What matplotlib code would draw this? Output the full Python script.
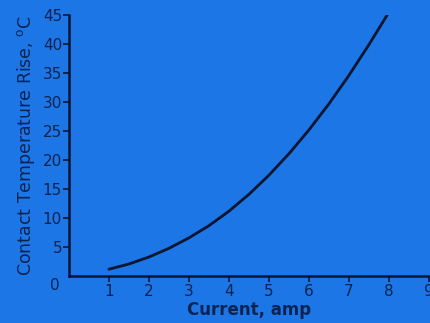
import matplotlib
matplotlib.use("Agg")
import matplotlib.pyplot as plt
import numpy as np

# current (amp) vs contact temperature rise (deg C)
current = [1, 1.5, 2, 2.5, 3, 3.5, 4, 4.5, 5, 5.5, 6, 6.5, 7, 7.5, 8]
temp_rise = [1.2, 2.1, 3.3, 4.8, 6.6, 8.7, 11.2, 14.1, 17.4, 21.1, 25.2, 29.7, 34.6, 39.9, 45.5]

xticks = [1, 2, 3, 4, 5, 6, 7, 8, 9]
yticks = [5, 10, 15, 20, 25, 30, 35, 40, 45]

bg = "#1c76e6"
ink = "#0b2350"

fig = plt.figure(figsize=(4.31, 3.23), dpi=100, facecolor=bg)
ax = fig.add_axes([0.160, 0.145, 0.835, 0.808], facecolor=bg)

ax.plot(current, temp_rise, color="#0a1530", lw=2.0, solid_capstyle="round")

ax.set_xlim(0, 9)
ax.set_ylim(0, 45)
ax.set_xticks(xticks)
ax.set_yticks(yticks)
ax.set_xticklabels([str(t) for t in xticks])
ax.set_yticklabels([str(t) for t in yticks])

for s in ["top", "right"]:
    ax.spines[s].set_visible(False)
for s in ["left", "bottom"]:
    ax.spines[s].set_color("#0a1530")
    ax.spines[s].set_linewidth(1.8)
ax.spines["bottom"].set_bounds(0, 9.1)

ax.tick_params(axis="both", colors="#0a1530", labelcolor=ink, labelsize=11,
               length=4, width=1.2)
ax.tick_params(axis="y", pad=1)
ax.tick_params(axis="x", pad=2)

ax.annotate("0", xy=(0, 0), xytext=(-10, -6.5), textcoords="offset points",
            ha="center", va="center", color=ink, fontsize=11,
            annotation_clip=False)

ax.set_xlabel("Current, amp", color=ink, fontsize=12, fontweight="bold",
              labelpad=1)
ax.set_ylabel("Contact Temperature Rise, $^{\\rm o}$C", color=ink,
              fontsize=12.5, fontweight="medium", labelpad=4)

fig.savefig("out.png", dpi=100, facecolor=bg)
